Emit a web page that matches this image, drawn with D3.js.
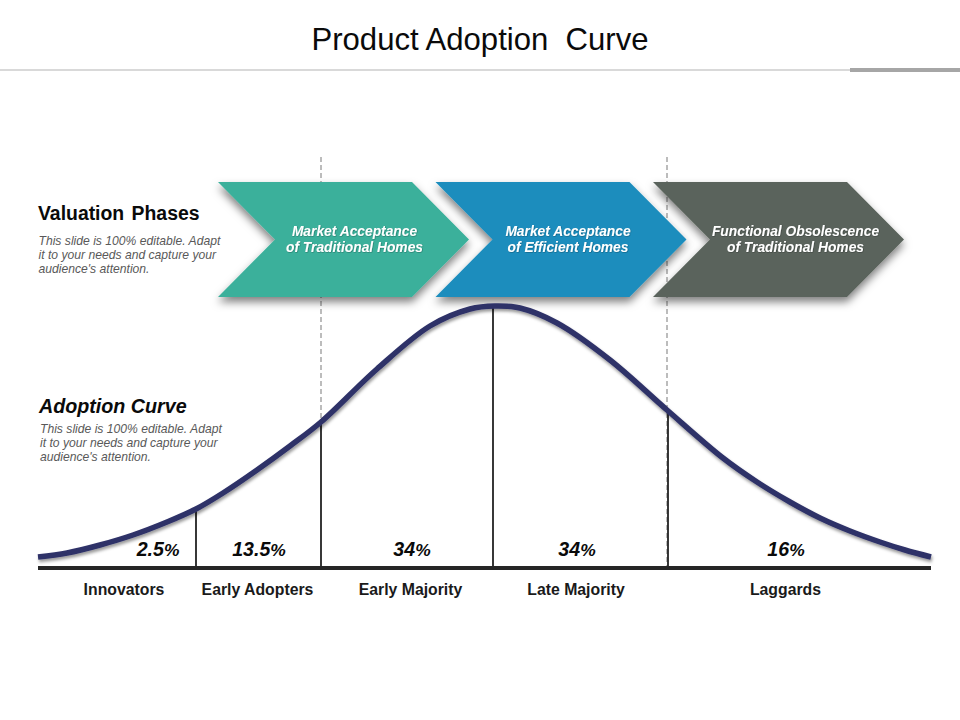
<!DOCTYPE html>
<html>
<head>
<meta charset="utf-8">
<script src="https://cdn.jsdelivr.net/npm/d3@7"></script>
<style>
html,body{margin:0;padding:0;background:#fff;}
svg{display:block;}
text{font-family:"Liberation Sans",Arial,sans-serif;}
</style>
</head>
<body>
<div id="chart"></div>
<script>
// ---- data ----
const chartTitle = "Product Adoption\u00A0 Curve";
const phaseNames = [
  ["Market Acceptance", "of Traditional Homes"],
  ["Market Acceptance", "of Efficient Homes"],
  ["Functional Obsolescence", "of Traditional Homes"]
];
const phaseColors = ["#3BB09B", "#1F8DBD", "#5A635B"];
const categories = ["Innovators", "Early Adopters", "Early Majority", "Late Majority", "Laggards"];
const shareValues = ["2.5", "13.5", "34", "34", "16"];
// segment boundaries along the curve's horizontal axis (0..893)
const boundaries = [158, 283, 455, 630];
const dashedBoundaries = [283, 629];
// curve readings: position along the axis, height above the axis (0..262)
const curvePos = [0, 29, 62, 95, 129, 158, 185, 219, 252, 283, 339, 392, 432, 457, 482, 519, 572, 629, 685, 719, 752, 782, 812, 842, 867, 893];
const curveHeight = [11, 15, 23, 33, 46, 59, 75, 98, 122, 146, 199, 242, 259, 262, 260, 245, 208, 158, 110, 86, 66, 50, 37, 26, 18, 11];
const descText = ["This slide is 100% editable. Adapt", "it to your needs and capture your", "audience's attention."];

// ---- layout ----
const W = 960, H = 720, baseY = 568;
const x = d3.scaleLinear().domain([0, 893]).range([38, 931]);
const y = d3.scaleLinear().domain([0, 262]).range([baseY, 306]);
const heightAt = d3.scaleLinear().domain(curvePos).range(curveHeight);

const svg = d3.select("#chart").append("svg").attr("width", W).attr("height", H);
const defs = svg.append("defs");
const shadow = (id, dx, dy, sd, op) => {
  defs.append("filter").attr("id", id)
    .attr("x", "-20%").attr("y", "-30%").attr("width", "140%").attr("height", "160%")
    .append("feDropShadow").attr("dx", dx).attr("dy", dy)
    .attr("stdDeviation", sd).attr("flood-color", "#000").attr("flood-opacity", op);
};
shadow("arrowShadow", 0, 5, 4, 0.5);
shadow("curveShadow", 1, 2.5, 1.5, 0.4);
shadow("textShadow", 0.5, 0.5, 0.5, 0.4);

// header
svg.append("text").attr("x", 480).attr("y", 49.5).attr("text-anchor", "middle")
  .attr("font-size", 31.1).attr("fill", "#0a0a0a").text(chartTitle);
svg.append("rect").attr("x", 0).attr("y", 69).attr("width", 850).attr("height", 2).attr("fill", "#D9D9D9");
svg.append("rect").attr("x", 850).attr("y", 68).attr("width", 110).attr("height", 4).attr("fill", "#A6A6A6");

// dashed guides (behind the arrows)
svg.selectAll(".guide").data(dashedBoundaries).join("line").attr("class", "guide")
  .attr("x1", d => x(d)).attr("x2", d => x(d))
  .attr("y1", 157).attr("y2", (d, i) => i === 0 ? 424 : 566)
  .attr("stroke", "#A6A6A6").attr("stroke-width", 1.5).attr("stroke-dasharray", "5 3");

// chevrons
const phaseX = d3.scalePoint().domain(d3.range(phaseNames.length)).range([218, 653]);
const chevTop = 182, chevBot = 297, chevMid = 239.5, chevW = 194, chevTip = 57;
const chevLine = d3.line();
const phases = svg.selectAll(".phase").data(phaseNames).join("g").attr("class", "phase")
  .attr("transform", (d, i) => `translate(${phaseX(i)},0)`);
phases.append("path")
  .attr("d", chevLine([[0, chevTop], [chevW, chevTop], [chevW + chevTip, chevMid], [chevW, chevBot], [0, chevBot], [chevTip, chevMid]]) + "Z")
  .attr("fill", (d, i) => phaseColors[i]).attr("filter", "url(#arrowShadow)");
const phaseCx = [136.5, 132.5, 142.5];
phases.each(function (d, i) {
  const g = d3.select(this);
  d.forEach((line, j) => {
    g.append("text").attr("x", phaseCx[i]).attr("y", 235.5 + j * 16).attr("text-anchor", "middle")
      .attr("font-size", 13.8).attr("font-weight", "bold").attr("font-style", "italic")
      .attr("fill", "#fff").attr("filter", "url(#textShadow)").text(line);
  });
});

// left headings
svg.append("text").attr("x", 38).attr("y", 220).attr("font-size", 19.4).attr("font-weight", "bold")
  .attr("fill", "#0a0a0a").style("word-spacing", "2px").text("Valuation Phases");
svg.append("text").attr("x", 39).attr("y", 413).attr("font-size", 19.7).attr("font-weight", "bold")
  .attr("font-style", "italic").attr("fill", "#0a0a0a").text("Adoption Curve");
[[38.5, 245], [40, 433]].forEach(([tx, ty]) => {
  descText.forEach((line, i) => {
    svg.append("text").attr("x", tx).attr("y", ty + i * 14).attr("font-size", 12.15)
      .attr("font-style", "italic").attr("fill", "#595959").text(line);
  });
});

// boundaries
svg.selectAll(".boundary").data(boundaries).join("line").attr("class", "boundary")
  .attr("x1", d => x(d)).attr("x2", d => x(d))
  .attr("y1", d => y(heightAt(d))).attr("y2", baseY)
  .attr("stroke", "#222").attr("stroke-width", 1.8);

// axis baseline
svg.append("line").attr("x1", x(0)).attr("x2", x(893)).attr("y1", baseY).attr("y2", baseY)
  .attr("stroke", "#262626").attr("stroke-width", 4);

// curve
const line = d3.line().x(d => x(d[0])).y(d => y(d[1])).curve(d3.curveCatmullRom.alpha(0.5));
svg.append("path").datum(curvePos.map((p, i) => [p, curveHeight[i]]))
  .attr("d", line).attr("fill", "none").attr("stroke", "#2E3168").attr("stroke-width", 5.5)
  .attr("filter", "url(#curveShadow)");

// values and category labels
const valueCx = [158, 259, 412, 577, 786];
const labelCx = [124, 257.5, 410.5, 576, 785.5];
const vals = svg.selectAll(".val").data(shareValues).join("text").attr("class", "val")
  .attr("x", (d, i) => valueCx[i]).attr("y", 556).attr("text-anchor", "middle")
  .attr("font-style", "italic").attr("font-weight", "bold").attr("fill", "#0a0a0a")
  .attr("font-size", 19.6);
vals.append("tspan").text(d => d);
vals.append("tspan").attr("font-size", 17.4).text("%");
svg.selectAll(".cat").data(categories).join("text").attr("class", "cat")
  .attr("x", (d, i) => labelCx[i]).attr("y", 595).attr("text-anchor", "middle")
  .attr("font-size", 15.8).attr("font-weight", "bold").attr("fill", "#1a1a1a").text(d => d);
</script>
</body>
</html>
